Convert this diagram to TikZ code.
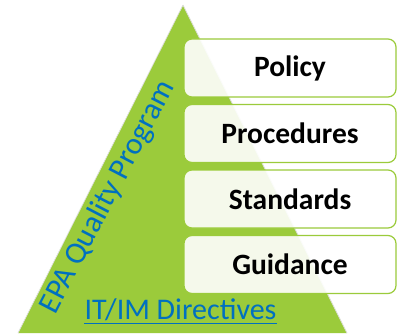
\documentclass[tikz,border=0pt]{standalone}
\usepackage{fontspec}
\setmainfont{Carlito}
\definecolor{pgreen}{HTML}{9BCB3B}
\definecolor{pblue}{HTML}{0070C0}
\begin{document}
\begin{tikzpicture}[x=1pt,y=1pt,
  levelbox/.style={draw=pgreen, line width=1.2pt, fill=white, fill opacity=0.9, text opacity=1,
    rounded corners=8pt, minimum width=212pt, minimum height=58pt, inner sep=0pt,
    font=\bfseries\fontsize{29.5}{32}\selectfont, text=black}]
\useasboundingbox (0,0) rectangle (401,335);
\fill[pgreen] (183,330) coordinate (apex) -- (18,2) coordinate (bl) -- (347,2) coordinate (br) -- cycle;
\draw[white!75!gray, line width=0.7pt] (apex) -- (bl) (br) -- (apex);
\node[levelbox] (policy) at (290,267) {Policy};
\node[levelbox] (proc) at (290,201.5) {Procedures};
\node[levelbox] (std) at (290,136) {Standards};
\node[levelbox] (guide) at (290,70.5) {Guidance};
\node[text=pblue, rotate=62.5, font=\fontsize{31}{34}\selectfont, inner sep=0pt] (epa) at (108,138) {EPA Quality Program};
\node[text=pblue, font=\fontsize{30}{32}\selectfont, inner sep=0pt, anchor=base] (itim) at (180.5,16) {IT/IM Directives};
\draw[pblue, line width=1pt] ([yshift=-4pt]itim.base west) -- ([yshift=-4pt]itim.base east);
\end{tikzpicture}
\end{document}
